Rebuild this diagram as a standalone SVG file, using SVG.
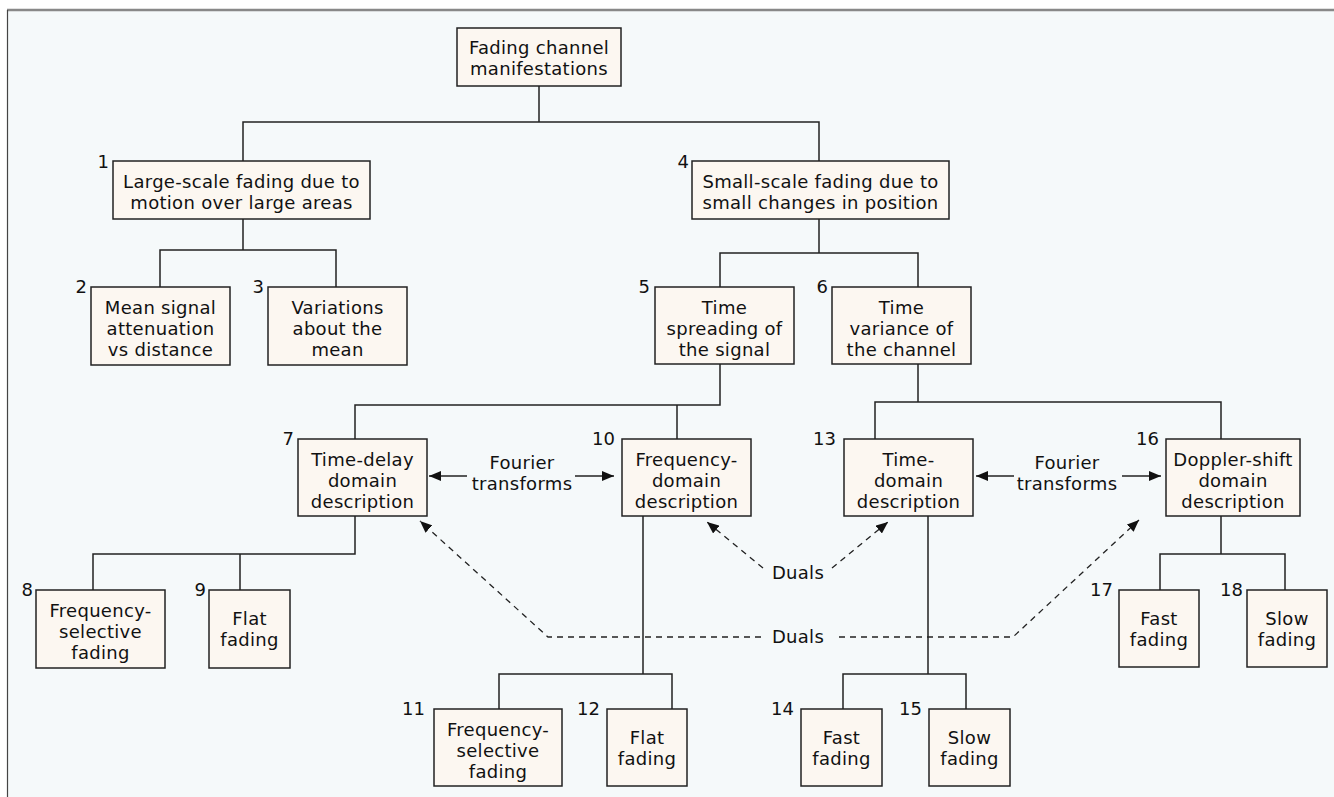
<svg xmlns="http://www.w3.org/2000/svg" width="1334" height="797" viewBox="0 0 1334 797">
<style>
.bx{fill:#fcf7f1;stroke:#222;stroke-width:1.5}
.t{font-family:"DejaVu Sans","Noto Sans","Liberation Sans",sans-serif;font-size:18px;letter-spacing:0.3px;fill:#111;text-anchor:middle}
.n{font-family:"DejaVu Sans","Noto Sans","Liberation Sans",sans-serif;font-size:18px;fill:#111;text-anchor:end}
.c{fill:none;stroke:#222;stroke-width:1.5}
.d{fill:none;stroke:#222;stroke-width:1.3;stroke-dasharray:6 5}
</style>
<defs>
<marker id="ah" viewBox="0 0 12 10" refX="12" refY="5" markerWidth="12" markerHeight="10" markerUnits="userSpaceOnUse" orient="auto">
<path d="M0,0 L12,5 L0,10 Z" fill="#111"/>
</marker>
</defs>
<rect x="0" y="0" width="1334" height="797" fill="#ffffff"/>
<rect x="7" y="10" width="1327" height="787" fill="#f5f9fa"/>
<line x1="7" y1="10" x2="1334" y2="10" stroke="#888" stroke-width="2.5"/>
<line x1="7.5" y1="10" x2="7.5" y2="797" stroke="#444" stroke-width="1.2"/>

<g id="connectors">
<path class="c" d="M539,86V122M243,161V122H819V161"/>
<path class="c" d="M243,219V250M160,287V250H336V287"/>
<path class="c" d="M819,219V253M720,287V253H918V287"/>
<path class="c" d="M720,364V405H355V439M677,405V439"/>
<path class="c" d="M918,364V402M875,439V402H1221V439"/>
<path class="c" d="M355,516V554H93V590M240,554V590"/>
<path class="c" d="M643,516V674M499,709V674H672V709"/>
<path class="c" d="M928,516V674M843,709V674H966V709"/>
<path class="c" d="M1221,516V554M1160,590V554H1285V590"/>
<line class="c" x1="467" y1="476" x2="429" y2="476" marker-end="url(#ah)"/>
<line class="c" x1="575" y1="476" x2="614" y2="476" marker-end="url(#ah)"/>
<line class="c" x1="1014" y1="476" x2="976" y2="476" marker-end="url(#ah)"/>
<line class="c" x1="1122" y1="476" x2="1161" y2="476" marker-end="url(#ah)"/>
<text class="t" x="522" y="469">Fourier</text>
<text class="t" x="522" y="490">transforms</text>
<text class="t" x="1067" y="469">Fourier</text>
<text class="t" x="1067" y="490">transforms</text>
<line class="d" x1="763" y1="568" x2="707" y2="522" marker-end="url(#ah)"/>
<line class="d" x1="832" y1="568" x2="888" y2="522" marker-end="url(#ah)"/>
<polyline class="d" points="761,637 548,637 420,521" marker-end="url(#ah)"/>
<polyline class="d" points="839,637 1013,637 1139,520" marker-end="url(#ah)"/>
<text class="t" x="798" y="579">Duals</text>
<text class="t" x="798" y="643">Duals</text>
</g>

<g id="n0"><rect class="bx" x="457" y="28" width="164" height="58"/>
<text class="t" x="539" y="54">Fading channel</text><text class="t" x="539" y="75">manifestations</text></g>

<g id="n1"><rect class="bx" x="113" y="161" width="257" height="58"/>
<text class="n" x="109" y="168">1</text>
<text class="t" x="241.5" y="188">Large-scale fading due to</text><text class="t" x="241.5" y="209">motion over large areas</text></g>

<g id="n2"><rect class="bx" x="91" y="287" width="139" height="78"/>
<text class="n" x="87" y="293">2</text>
<text class="t" x="160.5" y="314">Mean signal</text><text class="t" x="160.5" y="335">attenuation</text><text class="t" x="160.5" y="356">vs distance</text></g>

<g id="n3"><rect class="bx" x="268" y="287" width="139" height="78"/>
<text class="n" x="264" y="293">3</text>
<text class="t" x="337.5" y="314">Variations</text><text class="t" x="337.5" y="335">about the</text><text class="t" x="337.5" y="356">mean</text></g>

<g id="n4"><rect class="bx" x="692" y="161" width="257" height="58"/>
<text class="n" x="689" y="168">4</text>
<text class="t" x="820.5" y="188">Small-scale fading due to</text><text class="t" x="820.5" y="209">small changes in position</text></g>

<g id="n5"><rect class="bx" x="655" y="287" width="139" height="77"/>
<text class="n" x="650" y="293">5</text>
<text class="t" x="724.5" y="314">Time</text><text class="t" x="724.5" y="335">spreading of</text><text class="t" x="724.5" y="356">the signal</text></g>

<g id="n6"><rect class="bx" x="832" y="287" width="139" height="77"/>
<text class="n" x="828" y="293">6</text>
<text class="t" x="901.5" y="314">Time</text><text class="t" x="901.5" y="335">variance of</text><text class="t" x="901.5" y="356">the channel</text></g>

<g id="n7"><rect class="bx" x="298" y="439" width="129" height="77"/>
<text class="n" x="294" y="445">7</text>
<text class="t" x="362.5" y="466">Time-delay</text><text class="t" x="362.5" y="487">domain</text><text class="t" x="362.5" y="508">description</text></g>

<g id="n8"><rect class="bx" x="36" y="590" width="129" height="78"/>
<text class="n" x="33" y="596">8</text>
<text class="t" x="100.5" y="617">Frequency-</text><text class="t" x="100.5" y="638">selective</text><text class="t" x="100.5" y="659">fading</text></g>

<g id="n9"><rect class="bx" x="209" y="590" width="81" height="78"/>
<text class="n" x="206" y="596">9</text>
<text class="t" x="249.5" y="625">Flat</text><text class="t" x="249.5" y="646">fading</text></g>

<g id="n10"><rect class="bx" x="622" y="439" width="129" height="77"/>
<text class="n" x="615" y="445">10</text>
<text class="t" x="686.5" y="466">Frequency-</text><text class="t" x="686.5" y="487">domain</text><text class="t" x="686.5" y="508">description</text></g>

<g id="n11"><rect class="bx" x="434" y="709" width="128" height="77"/>
<text class="n" x="425" y="715">11</text>
<text class="t" x="498" y="736">Frequency-</text><text class="t" x="498" y="757">selective</text><text class="t" x="498" y="778">fading</text></g>

<g id="n12"><rect class="bx" x="607" y="709" width="80" height="77"/>
<text class="n" x="600" y="715">12</text>
<text class="t" x="647" y="744">Flat</text><text class="t" x="647" y="765">fading</text></g>

<g id="n13"><rect class="bx" x="844" y="439" width="129" height="77"/>
<text class="n" x="836" y="445">13</text>
<text class="t" x="908.5" y="466">Time-</text><text class="t" x="908.5" y="487">domain</text><text class="t" x="908.5" y="508">description</text></g>

<g id="n14"><rect class="bx" x="801" y="709" width="81" height="77"/>
<text class="n" x="794" y="715">14</text>
<text class="t" x="841.5" y="744">Fast</text><text class="t" x="841.5" y="765">fading</text></g>

<g id="n15"><rect class="bx" x="929" y="709" width="81" height="77"/>
<text class="n" x="922" y="715">15</text>
<text class="t" x="969.5" y="744">Slow</text><text class="t" x="969.5" y="765">fading</text></g>

<g id="n16"><rect class="bx" x="1166" y="439" width="134" height="77"/>
<text class="n" x="1159" y="445">16</text>
<text class="t" x="1233" y="466">Doppler-shift</text><text class="t" x="1233" y="487">domain</text><text class="t" x="1233" y="508">description</text></g>

<g id="n17"><rect class="bx" x="1119" y="590" width="80" height="77"/>
<text class="n" x="1113" y="596">17</text>
<text class="t" x="1159" y="625">Fast</text><text class="t" x="1159" y="646">fading</text></g>

<g id="n18"><rect class="bx" x="1247" y="590" width="80" height="77"/>
<text class="n" x="1243" y="596">18</text>
<text class="t" x="1287" y="625">Slow</text><text class="t" x="1287" y="646">fading</text></g>
</svg>
